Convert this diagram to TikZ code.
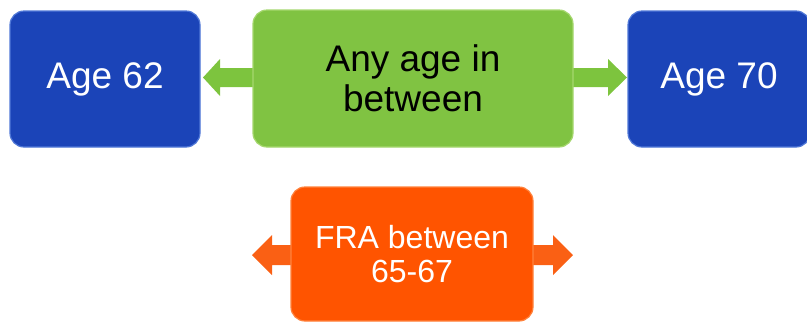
\documentclass[tikz,border=0pt]{standalone}
\usepackage{fontspec}
\setmainfont{Liberation Sans}
\definecolor{boxblue}{RGB}{27,68,184}
\definecolor{edgeblue}{RGB}{80,120,215}
\definecolor{boxgreen}{RGB}{128,195,66}
\definecolor{edgegreen}{RGB}{165,215,110}
\definecolor{arrowgreen}{RGB}{125,196,62}
\definecolor{boxorange}{RGB}{255,84,0}
\definecolor{edgeorange}{RGB}{255,130,60}
\definecolor{arroworange}{RGB}{250,96,20}
\tikzset{
  box/.style={rounded corners=14pt, inner sep=0pt, align=center, line width=1.2pt},
  bluebox/.style={box, fill=boxblue, draw=edgeblue, text=white, font=\fontsize{37}{40}\selectfont},
  greenbox/.style={box, fill=boxgreen, draw=edgegreen, text=black, font=\fontsize{37}{40}\selectfont},
  orangebox/.style={box, fill=boxorange, draw=edgeorange, text=white, font=\fontsize{32}{34}\selectfont},
}
\begin{document}
\begin{tikzpicture}[x=1pt,y=-1pt]
\useasboundingbox (0,0) rectangle (807,322);
% arrows (drawn first so boxes overlap their bases)
\fill[arrowgreen] (256,68) -- (220,68) -- (220,59) -- (203,77.5) -- (220,96) -- (220,87) -- (256,87) -- cycle;
\fill[arrowgreen] (570,68) -- (608,68) -- (608,59) -- (627,77.5) -- (608,96) -- (608,87) -- (570,87) -- cycle;
\fill[arroworange] (294,245) -- (272,245) -- (272,235) -- (252,255) -- (272,275) -- (272,265) -- (294,265) -- cycle;
\fill[arroworange] (530,245) -- (553,245) -- (553,235) -- (573,255) -- (553,275) -- (553,265) -- (530,265) -- cycle;
% boxes
\node[bluebox, minimum width=190pt, minimum height=136pt] (age62) at (105,79) {Age 62};
\node[greenbox, minimum width=320pt, minimum height=137pt] (between) at (413,78.5) {Any age in\\between};
\node[bluebox, minimum width=182pt, minimum height=136pt] (age70) at (719,79) {Age 70};
\node[orangebox, minimum width=242pt, minimum height=134pt] (fra) at (412,254) {FRA between\\65-67};
\end{tikzpicture}
\end{document}
